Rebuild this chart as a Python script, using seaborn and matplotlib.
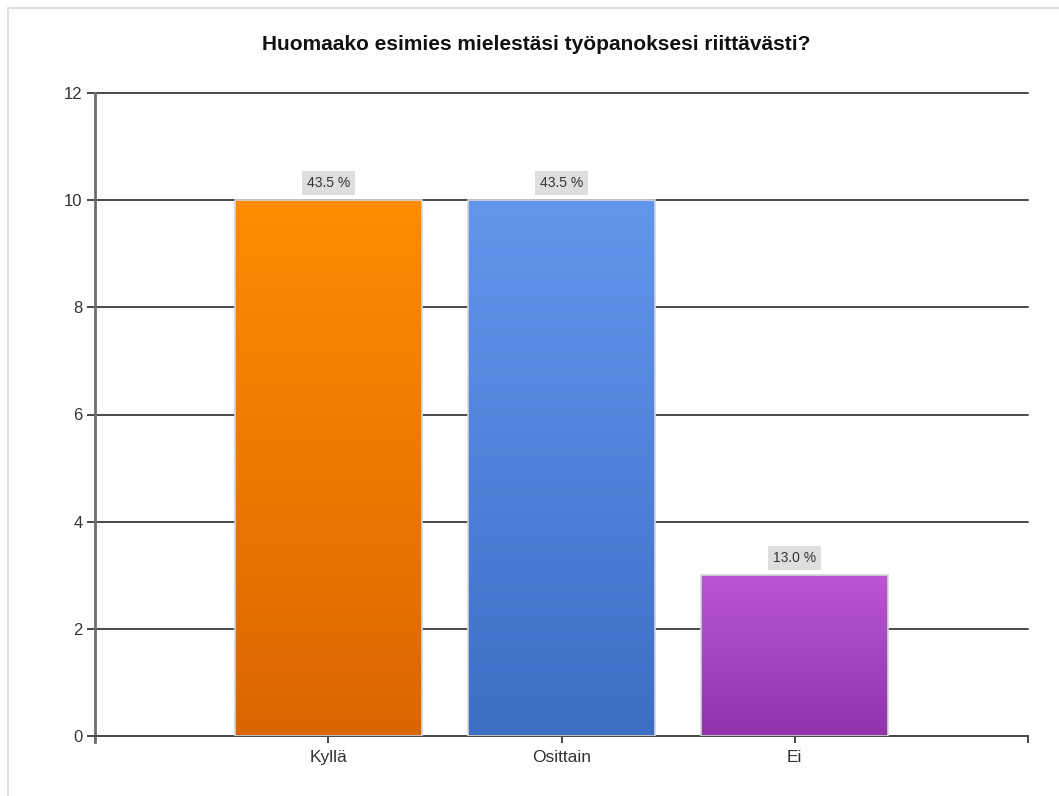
import numpy as np
import pandas as pd
import matplotlib
matplotlib.use("Agg")
import matplotlib.pyplot as plt
from matplotlib.colors import LinearSegmentedColormap
from matplotlib.lines import Line2D
import seaborn as sns

# Survey answers
categories = ["Kyllä", "Osittain", "Ei"]
counts = [10, 10, 3]
percent_labels = ["43.5 %", "43.5 %", "13.0 %"]
y_ticks = [0, 2, 4, 6, 8, 10, 12]
title = "Huomaako esimies mielestäsi työpanoksesi riittävästi?"

# Gradient colours per bar (top -> bottom)
top_colors = ["#FF8C00", "#6495ED", "#BA55D3"]
bottom_colors = ["#DA6600", "#3E6DC6", "#9233AB"]

sns.set_theme(style="white")
plt.rcParams["font.family"] = ["Liberation Sans", "DejaVu Sans"]

W, H = 1059, 796
fig = plt.figure(figsize=(W / 100, H / 100), dpi=100)
fig.patch.set_facecolor("white")

# light frame at the top and left edge of the panel
fig.add_artist(Line2D([8 / W, 1], [1 - 8 / H, 1 - 8 / H], transform=fig.transFigure,
                      color="#e0e0e0", lw=1.5))
fig.add_artist(Line2D([8 / W, 8 / W], [0, 1 - 8 / H], transform=fig.transFigure,
                      color="#e0e0e0", lw=1.5))

ax = fig.add_axes([95 / W, 1 - 736 / H, (1028 - 95) / W, (736 - 93) / H])

df = pd.DataFrame({"answer": categories, "count": counts})
sns.barplot(data=df, x="answer", y="count", hue="answer", palette=top_colors,
            width=0.8, ax=ax, legend=False, edgecolor="#d6d6d6", linewidth=1.2,
            saturation=1, zorder=3)

ax.set_xlim(-1, 3)
ax.set_ylim(0, 12)

# vertical gradient fill clipped to each bar
for patch, c_top, c_bot in zip(ax.patches, top_colors, bottom_colors):
    x0, y0 = patch.get_x(), patch.get_y()
    w, h = patch.get_width(), patch.get_height()
    cmap = LinearSegmentedColormap.from_list("g", [c_bot, c_top])
    grad = np.linspace(0, 1, 256).reshape(-1, 1)
    im = ax.imshow(grad, extent=[x0, x0 + w, y0, y0 + h], origin="lower",
                   aspect="auto", cmap=cmap, zorder=2.5, interpolation="bilinear")
    im.set_clip_path(patch)
    patch.set_facecolor("none")

ax.set_xlim(-1, 3)
ax.set_ylim(0, 12)
ax.set_aspect("auto")

# value labels in grey boxes above the bars
for patch, lab in zip(ax.patches, percent_labels):
    cx = patch.get_x() + patch.get_width() / 2
    ax.annotate(lab, xy=(cx, patch.get_height()), xytext=(0, 10),
                textcoords="offset pixels", ha="center", va="bottom",
                fontsize=10, color="#333333", zorder=5,
                bbox=dict(boxstyle="square,pad=0.36", fc="#dedede", ec="none"))

# grid and axes
ax.set_yticks(y_ticks)
ax.set_yticklabels([str(t) for t in y_ticks])
ax.yaxis.grid(True, color="#4a4a4a", linewidth=1.4)
for gl in ax.get_ygridlines():
    gl.set_clip_on(False)
ax.set_axisbelow(True)
for s in ["top", "right"]:
    ax.spines[s].set_visible(False)
ax.spines["left"].set_color("#6e6e6e")
ax.spines["left"].set_linewidth(2)
ax.spines["bottom"].set_color("#4a4a4a")
ax.spines["bottom"].set_linewidth(1.4)
ax.spines["left"].set_bounds(-0.12, 12)

ax.set_xticks(range(len(categories)))
ax.set_xticklabels(categories)
ax.set_xticks([-1, 3], minor=True)
ax.tick_params(axis="x", which="both", direction="out", length=5, width=1.4,
               color="#4a4a4a", labelsize=12.5, labelcolor="#333333", pad=5, bottom=True)
ax.tick_params(axis="y", direction="out", length=6, width=1.4, color="#4a4a4a",
               labelsize=12, labelcolor="#333333", pad=3, left=True)
ax.set_xlabel("")
ax.set_ylabel("")

fig.text(536 / W, 1 - 45 / H, title, ha="center", va="center",
         fontsize=15, fontweight="bold", color="#111111")

fig.savefig("out.png", dpi=100, facecolor="white")
